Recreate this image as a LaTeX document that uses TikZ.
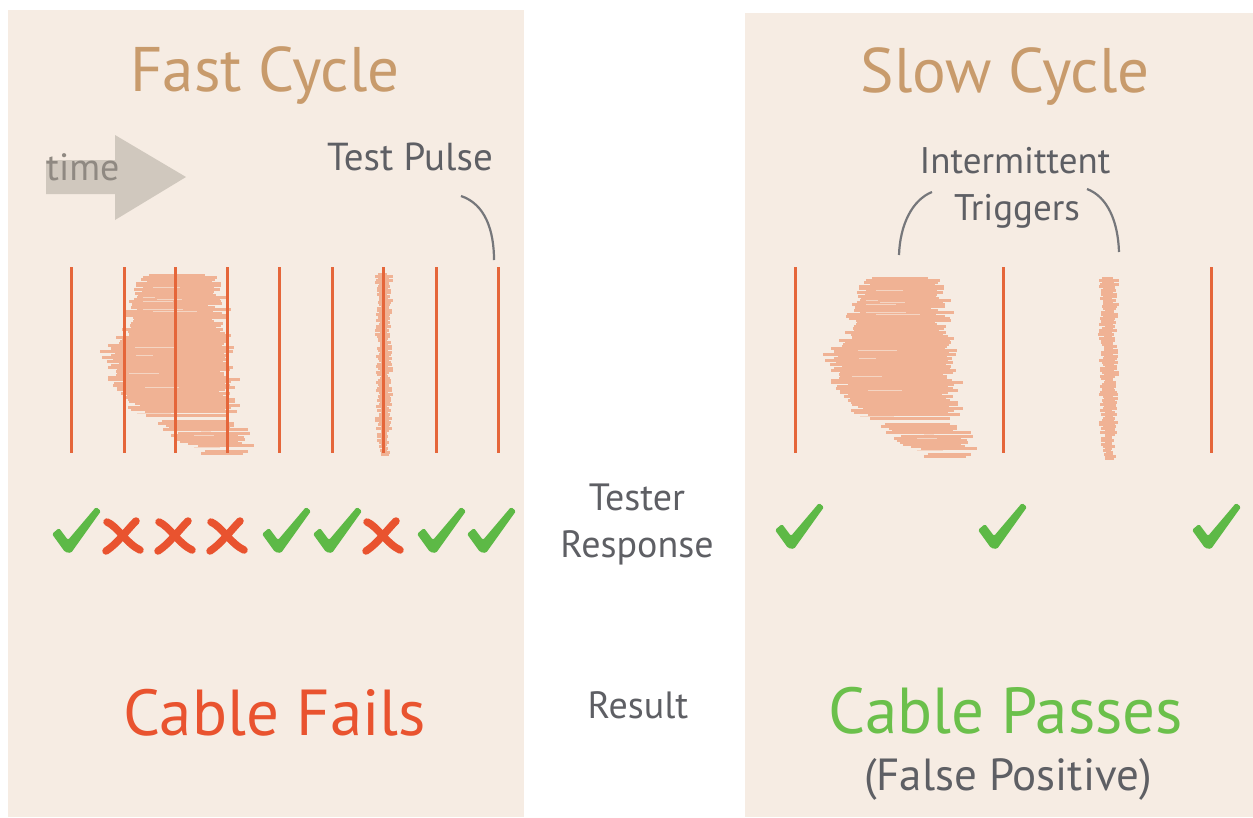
\documentclass[tikz,border=0pt]{standalone}
\usepackage{fontspec}
\setmainfont{PT Sans}
\definecolor{panel}{HTML}{F6ECE3}
\definecolor{titletan}{HTML}{C89B6C}
\definecolor{pulsered}{HTML}{E5663A}
\definecolor{burstpink}{HTML}{F0B294}
\definecolor{okgreen}{HTML}{5DB946}
\definecolor{nored}{HTML}{E9532F}
\definecolor{textgray}{HTML}{5E5F64}
\definecolor{arrowgray}{HTML}{D0C8BE}
\definecolor{timegray}{HTML}{8F8982}
\definecolor{passgreen}{HTML}{6BC04B}
\begin{document}
\begin{tikzpicture}[x=1pt,y=-1pt,
  panelbox/.style={fill=panel},
  title/.style={text=titletan, font=\fontsize{63}{70}\selectfont, anchor=base, inner sep=0pt},
  label/.style={text=textgray, font=\fontsize{37}{44}\selectfont, anchor=base, inner sep=0pt},
  result/.style={font=\fontsize{65}{70}\selectfont, anchor=base, inner sep=0pt},
  pulseline/.style={draw=pulsered, line width=3pt},
  leader/.style={draw=textgray!85, line width=2.2pt},
  burst/.style={fill=burstpink},
  streak/.style={fill=panel!60!burstpink},
  okmark/.pic={\fill[okgreen, rounded corners=1.5pt]
     (0,27) -- (7,21) -- (16,33) -- (44,0) -- (49,4) -- (19,46) -- (13,45) -- cycle;},
  nomark/.pic={
     \draw[nored, line width=7.5pt, line cap=round]
        (4,4) .. controls (14,8) and (24,26) .. (37,32);
     \draw[nored, line width=7.5pt, line cap=round]
        (33,3) .. controls (24,12) and (14,26) .. (3,33);},
  bigburst/.pic={
     \pgfmathsetseed{11}
     \foreach \i in {0,...,90}{
       \pgfmathsetmacro\bt{\i/90}
       \pgfmathsetmacro\benvL{ifthenelse(\bt<0.35,44-70*\bt,ifthenelse(\bt<0.42,19.5-200*(\bt-0.35),ifthenelse(\bt<0.68,5.5+55*(\bt-0.42),19.8+260*(\bt-0.68))))}
       \pgfmathsetmacro\benvR{ifthenelse(\bt<0.7,114+22*\bt,130+45*(\bt-0.7))}
       \pgfmathsetmacro\bl{\benvL+16*rnd-6}
       \pgfmathsetmacro\br{\benvR-16*rnd+6+12*rnd^4}
       \pgfmathtruncatemacro\bkeep{(\bt<0.75) || (rnd>0.35)}
       \ifnum\bkeep=1 \fill[burst] (\bl,2*\i) rectangle (\br,2*\i+2.6);\fi
       \pgfmathsetmacro\sa{\bl+rnd*30}
       \pgfmathsetmacro\sb{\sa+10+rnd*35}
       \pgfmathtruncatemacro\skeep{(rnd>0.8)}
       \ifnum\skeep=1 \fill[streak] (\sa,2*\i+1) rectangle (\sb,2*\i+1.9);\fi
     }},
  thinburst/.pic={
     \pgfmathsetseed{5}
     \foreach \i in {0,...,90}{
       \pgfmathsetmacro\bt{\i/90}
       \pgfmathsetmacro\bl{ifthenelse(\bt<0.85,2,2+30*(\bt-0.85))+6*rnd}
       \pgfmathsetmacro\br{ifthenelse(\bt<0.85,18,18-20*(\bt-0.85))-6*rnd+2}
       \fill[burst] (\bl,2*\i) rectangle (\br,2*\i+2.6);
     }}
]
\useasboundingbox (0,0) rectangle (1253,817);
\fill[white] (0,0) rectangle (1253,817);

% the two panels
\fill[panelbox] (8,10) rectangle (524,817);
\fill[panelbox] (745,13) rectangle (1253,817);

% titles
\node[title] (fast) at (265,91) {Fast Cycle};
\node[title] (slow) at (1005,92) {Slow Cycle};

% time arrow
\fill[arrowgray] (46,160) -- (115,160) -- (115,135) -- (186,177)
   -- (115,220) -- (115,194) -- (46,194) -- cycle;
\node[text=timegray, font=\fontsize{38}{44}\selectfont, anchor=base west, inner sep=0pt]
   (time) at (46,180) {time};

% noise bursts
\pic at (100,274) {bigburst};
\pic at (373,273) {thinburst};
\pic at (823,277) {bigburst};
\pic[xscale=1.15] at (1096,277) {thinburst};

% test pulses, fast cycle
\foreach \x [count=\k] in {71,124,175,227,279,332,383,436,498}{
  \coordinate (a\k) at (\x,267);
  \coordinate (b\k) at (\x,453);
  \draw[pulseline] (a\k) -- (b\k);
}
% test pulses, slow cycle
\foreach \x [count=\k] in {795,1003,1211}{
  \coordinate (c\k) at (\x,267);
  \coordinate (d\k) at (\x,453);
  \draw[pulseline] (c\k) -- (d\k);
}

% labels with leaders
\node[label, font=\fontsize{39}{44}\selectfont] (pulse) at (410,170) {Test Pulse};
\draw[leader] ([xshift=51pt,yshift=-26pt]pulse.base) .. controls +(24,8) and +(0,-30) .. ([xshift=-4pt,yshift=7pt]a9);

\node[label] (inter) at (1015,173) {Intermittent};
\node[label] (trig) at (1017,220) {Triggers};
\coordinate (lb) at (899,255);
\coordinate (rb) at (1119,252);
\draw[leader] ([xshift=-85pt,yshift=28pt]trig.base) .. controls +(-20,8) and +(1,-30) .. (lb);
\draw[leader] ([xshift=70pt,yshift=31pt]trig.base) .. controls +(21,8) and +(-1,-30) .. (rb);

% tester response, fast cycle
\foreach \x in {52,262,313,417,467}{ \pic at (\x,507) {okmark}; }
\foreach \x in {103,155,207,363}{ \pic at (\x,518) {nomark}; }
% tester response, slow cycle
\foreach \x in {775,978,1192}{ \pic at (\x,503) {okmark}; }

% middle column
\node[label, font=\fontsize{38}{47}\selectfont, align=center, anchor=base] (resp) at (637,557)
   {Tester\\Response};
\node[label, font=\fontsize{38}{47}\selectfont] (res) at (638,718) {Result};

% results
\node[result, text=nored] (fails) at (275,735) {Cable Fails};
\node[result, text=passgreen] (passes) at (1006,733) {Cable Passes};
\node[label, font=\fontsize{45}{50}\selectfont] (falsepos) at (1008,790) {(False Positive)};
\end{tikzpicture}
\end{document}
